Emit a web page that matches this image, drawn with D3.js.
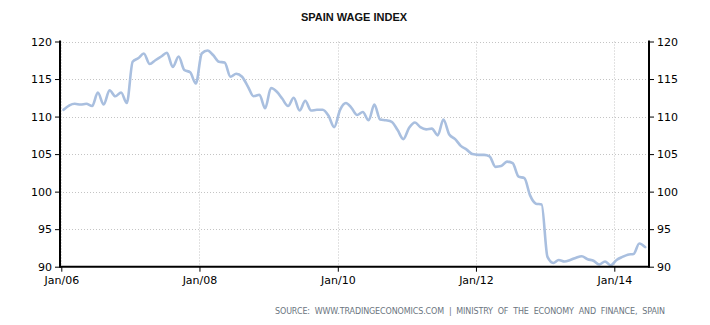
<!DOCTYPE html>
<html>
<head>
<meta charset="utf-8">
<script src="https://cdn.jsdelivr.net/npm/d3@7"></script>
<style>
  html, body { margin: 0; padding: 0; background: #ffffff; }
  svg { display: block; }
</style>
</head>
<body>
<svg id="chart" width="710" height="325"></svg>
<script>
// ---- Data (monthly, Jan 2006 - Jun 2014) ----
const startYear = 2006;
const values = [
  110.9, 111.5, 111.7, 111.6, 111.7, 111.4, 113.2, 111.6, 113.5, 112.7, 113.2, 111.8,
  117.3, 117.8, 118.4, 117.0, 117.5, 118.0, 118.5, 116.6, 118.0, 116.2, 115.9, 114.4,
  118.4, 118.8, 118.2, 117.3, 117.2, 115.3, 115.7, 115.3, 114.0, 112.7, 112.9, 111.1,
  113.8, 113.3, 112.4, 111.4, 112.5, 110.8, 112.1, 110.8, 110.9, 110.9, 110.1, 108.6,
  110.9, 111.8, 111.2, 110.2, 110.6, 109.5, 111.6, 109.6, 109.5, 109.3, 108.2, 107.0,
  108.5, 109.2, 108.6, 108.3, 108.4, 107.5, 109.6, 107.6, 107.0, 106.1, 105.6, 105.0,
  104.9, 104.9, 104.7, 103.3, 103.4, 104.0, 103.8, 102.0, 101.8, 99.5, 98.4, 98.3,
  91.3, 90.5, 90.9, 90.7, 90.9, 91.2, 91.4, 91.0, 90.8, 90.3, 90.7, 90.2,
  90.9, 91.3, 91.6, 91.7, 93.1, 92.6
];
const yTicks = [90, 95, 100, 105, 110, 115, 120];
const xTickYears = [2006, 2008, 2010, 2012, 2014];
const xTickLabels = ["Jan/06", "Jan/08", "Jan/10", "Jan/12", "Jan/14"];
const title = "SPAIN WAGE INDEX";
const source = "SOURCE:  WWW.TRADINGECONOMICS.COM  |  MINISTRY  OF  THE  ECONOMY  AND  FINANCE,  SPAIN";

const data = values.map((v, i) => ({ date: new Date(startYear, i, 13), value: v }));

// ---- Layout ----
const svg = d3.select("#chart");
const plotLeft = 60, plotRight = 649, plotTop = 41.5, plotBottom = 266.7;

const x = d3.scaleTime()
  .domain([new Date(2006, 0, 1), new Date(2014, 0, 1)])
  .range([61.3, 614.3]);
const y = d3.scaleLinear().domain([90, 120]).range([plotBottom, plotTop]);

const gridColor = "#c4c4c4";
const font = "Tahoma, 'DejaVu Sans', 'Liberation Sans', Arial, sans-serif";

// Title
svg.append("text")
  .attr("x", 354).attr("y", 21)
  .attr("text-anchor", "middle")
  .attr("font-family", "'Liberation Sans', Arial, sans-serif")
  .attr("font-weight", "bold")
  .attr("font-size", 11)
  .attr("fill", "#111")
  .text(title);

// Horizontal gridlines
svg.append("g").selectAll("line")
  .data(yTicks.filter(d => d !== 90))
  .join("line")
  .attr("x1", plotLeft).attr("x2", plotRight)
  .attr("y1", d => Math.round(y(d)) + 0.5).attr("y2", d => Math.round(y(d)) + 0.5)
  .attr("stroke", gridColor).attr("stroke-width", 1)
  .attr("stroke-dasharray", "1,2");

// Vertical gridlines
const xTickDates = xTickYears.map(yr => new Date(yr, 0, 1));
svg.append("g").selectAll("line")
  .data(xTickDates)
  .join("line")
  .attr("x1", d => Math.round(x(d)) + 0.5).attr("x2", d => Math.round(x(d)) + 0.5)
  .attr("y1", plotTop).attr("y2", plotBottom)
  .attr("stroke", gridColor).attr("stroke-width", 1)
  .attr("stroke-dasharray", "1,2");

// Line
const line = d3.line()
  .x(d => x(d.date))
  .y(d => y(d.value))
  .curve(d3.curveMonotoneX);

svg.append("path")
  .datum(data)
  .attr("d", line)
  .attr("fill", "none")
  .attr("stroke", "#a9bfdf")
  .attr("stroke-width", 2.6)
  .attr("stroke-linejoin", "round")
  .attr("stroke-linecap", "round");

// Axes
const leftAxis = d3.axisLeft(y).tickValues(yTicks).tickSize(5).tickPadding(3).tickFormat(d3.format("d"));
const rightAxis = d3.axisRight(y).tickValues(yTicks).tickSize(5).tickPadding(3).tickFormat(d3.format("d"));
const bottomAxis = d3.axisBottom(x).tickValues(xTickDates).tickSize(5).tickPadding(5)
  .tickFormat((d, i) => xTickLabels[i]);

function styleAxis(g) {
  g.select(".domain").remove();
  g.selectAll(".tick line").attr("stroke", "#000").attr("stroke-width", 1);
  g.selectAll(".tick text")
    .attr("font-family", font)
    .attr("font-size", 11)
    .attr("fill", "#000");
}

svg.append("g").attr("transform", `translate(${plotLeft},0)`).call(leftAxis).call(styleAxis);
svg.append("g").attr("transform", `translate(${plotRight},0)`).call(rightAxis).call(styleAxis);
svg.append("g").attr("transform", `translate(0,${plotBottom})`).call(bottomAxis).call(styleAxis);

// Axis lines
svg.append("line").attr("x1", plotLeft).attr("x2", plotLeft).attr("y1", plotTop - 1).attr("y2", plotBottom + 1)
  .attr("stroke", "#000").attr("stroke-width", 2);
svg.append("line").attr("x1", plotRight).attr("x2", plotRight).attr("y1", plotTop - 1).attr("y2", plotBottom + 1)
  .attr("stroke", "#000").attr("stroke-width", 2);
svg.append("line").attr("x1", plotLeft).attr("x2", plotRight).attr("y1", plotBottom).attr("y2", plotBottom)
  .attr("stroke", "#000").attr("stroke-width", 2);

// Source
svg.append("text")
  .attr("x", 275).attr("y", 314)
  .attr("text-anchor", "start")
  .attr("font-family", font)
  .attr("font-size", 8)
  .attr("fill", "#6b7580")
  .attr("textLength", 390)
  .attr("lengthAdjust", "spacing")
  .style("white-space", "pre")
  .text(source);
</script>
</body>
</html>
